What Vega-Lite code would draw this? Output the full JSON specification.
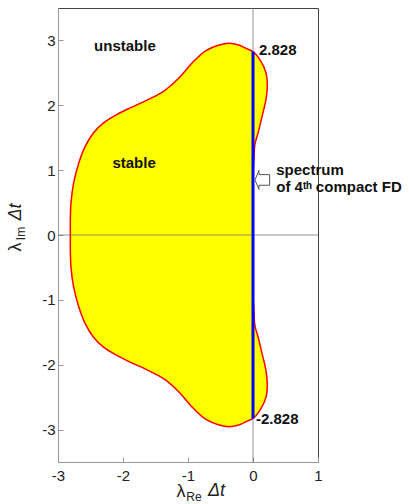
{
  "$schema": "https://vega.github.io/schema/vega-lite/v6.json",
  "width": 260,
  "height": 454,
  "autosize": {"type": "none"},
  "padding": {"left": 58, "top": 8, "right": 91, "bottom": 42},
  "background": "white",
  "config": {
    "view": {"stroke": "#444", "strokeWidth": 1},
    "axis": {
      "grid": false,
      "domainColor": "#999",
      "tickColor": "#999",
      "tickSize": -5,
      "labelFont": "Liberation Sans",
      "labelFontSize": 15,
      "labelColor": "#222",
      "labelFlush": false,
      "labelOverlap": false,
      "labelExpr": "replace(datum.label, '\u2212', '-')"
    },
    "axisX": {"labelPadding": 11},
    "axisY": {"labelPadding": 8}
  },
  "datasets": {
    "boundary": [
      {"i": 1, "x": 0, "y": 0},
      {"i": 2, "x": 0, "y": 0.5},
      {"i": 3, "x": 0.004, "y": 1.0},
      {"i": 4, "x": 0.015, "y": 1.2},
      {"i": 5, "x": 0.03, "y": 1.4},
      {"i": 6, "x": 0.08, "y": 1.58},
      {"i": 7, "x": 0.14, "y": 1.83},
      {"i": 8, "x": 0.2, "y": 2.09},
      {"i": 9, "x": 0.22, "y": 2.3},
      {"i": 10, "x": 0.2, "y": 2.5},
      {"i": 11, "x": 0.12, "y": 2.68},
      {"i": 12, "x": 0, "y": 2.828},
      {"i": 13, "x": -0.09, "y": 2.87},
      {"i": 14, "x": -0.22, "y": 2.93},
      {"i": 15, "x": -0.37, "y": 2.955},
      {"i": 16, "x": -0.52, "y": 2.93},
      {"i": 17, "x": -0.73, "y": 2.84},
      {"i": 18, "x": -0.93, "y": 2.66},
      {"i": 19, "x": -1.14, "y": 2.42},
      {"i": 20, "x": -1.37, "y": 2.22},
      {"i": 21, "x": -1.63, "y": 2.08},
      {"i": 22, "x": -1.89, "y": 1.96},
      {"i": 23, "x": -2.09, "y": 1.86},
      {"i": 24, "x": -2.3, "y": 1.73},
      {"i": 25, "x": -2.45, "y": 1.58},
      {"i": 26, "x": -2.58, "y": 1.37},
      {"i": 27, "x": -2.68, "y": 1.11},
      {"i": 28, "x": -2.76, "y": 0.8},
      {"i": 29, "x": -2.8, "y": 0.5},
      {"i": 30, "x": -2.81, "y": 0.25},
      {"i": 31, "x": -2.81, "y": 0},
      {"i": 32, "x": -2.81, "y": -0.25},
      {"i": 33, "x": -2.8, "y": -0.5},
      {"i": 34, "x": -2.76, "y": -0.8},
      {"i": 35, "x": -2.68, "y": -1.11},
      {"i": 36, "x": -2.58, "y": -1.37},
      {"i": 37, "x": -2.45, "y": -1.58},
      {"i": 38, "x": -2.3, "y": -1.73},
      {"i": 39, "x": -2.09, "y": -1.86},
      {"i": 40, "x": -1.89, "y": -1.96},
      {"i": 41, "x": -1.63, "y": -2.08},
      {"i": 42, "x": -1.37, "y": -2.22},
      {"i": 43, "x": -1.14, "y": -2.42},
      {"i": 44, "x": -0.93, "y": -2.66},
      {"i": 45, "x": -0.73, "y": -2.84},
      {"i": 46, "x": -0.52, "y": -2.93},
      {"i": 47, "x": -0.37, "y": -2.955},
      {"i": 48, "x": -0.22, "y": -2.93},
      {"i": 49, "x": -0.09, "y": -2.87},
      {"i": 50, "x": 0, "y": -2.828},
      {"i": 51, "x": 0.12, "y": -2.68},
      {"i": 52, "x": 0.2, "y": -2.5},
      {"i": 53, "x": 0.22, "y": -2.3},
      {"i": 54, "x": 0.2, "y": -2.09},
      {"i": 55, "x": 0.14, "y": -1.83},
      {"i": 56, "x": 0.08, "y": -1.58},
      {"i": 57, "x": 0.03, "y": -1.4},
      {"i": 58, "x": 0.015, "y": -1.2},
      {"i": 59, "x": 0.004, "y": -1.0},
      {"i": 60, "x": 0, "y": -0.5},
      {"i": 61, "x": 0, "y": 0}
    ],
    "vzero": [{"x": 0}],
    "hzero": [{"y": 0}],
    "spectrum": [{"x": 0, "y": -2.828, "y2": 2.828}],
    "regions": [
      {"label": "unstable", "x": -1.97, "y": 2.84},
      {"label": "stable", "x": -1.83, "y": 1.04}
    ],
    "top": [{"label": "2.828", "x": 0, "y": 2.828}],
    "bottom": [{"label": "-2.828", "x": 0, "y": -2.828}],
    "note": [
      {"label": "spectrum", "x": 0.358, "y": 0.926},
      {"label": "of 4ᵗʰ compact FD", "x": 0.358, "y": 0.664}
    ],
    "arrow": [{"x": 0.143, "y": 0.849}],
    "xlam": [{"label": "λ", "x": -1.108, "y": -4.035}],
    "xsub": [{"label": "Re", "x": -0.908, "y": -4.097}],
    "xdt": [{"label": "Δt", "x": -0.562, "y": -4.02}],
    "ylam": [{"label": "λ", "x": -3.569, "y": -0.185}],
    "ysub": [{"label": "Im", "x": -3.515, "y": 0.023}],
    "ydt": [{"label": "Δt", "x": -3.569, "y": 0.355}]
  },
  "layer": [
    {
      "data": {"name": "boundary"},
      "mark": {"type": "line", "interpolate": "catmull-rom", "fill": "#ffff00", "stroke": "#ff0000", "strokeWidth": 1.5},
      "encoding": {
        "x": {"field": "x", "type": "quantitative", "scale": {"domain": [-3, 1], "nice": false, "zero": false},
              "axis": {"title": null, "values": [-3, -2, -1, 0, 1]}},
        "y": {"field": "y", "type": "quantitative", "scale": {"domain": [-3.5, 3.5], "nice": false, "zero": false},
              "axis": {"title": null, "values": [-3, -2, -1, 0, 1, 2, 3]}},
        "order": {"field": "i"}
      }
    },
    {
      "data": {"name": "vzero"},
      "mark": {"type": "rule", "color": "#666", "opacity": 0.7, "strokeWidth": 1},
      "encoding": {"x": {"field": "x", "type": "quantitative", "scale": {"domain": [-3, 1], "nice": false, "zero": false},
              "axis": {"title": null, "values": [-3, -2, -1, 0, 1]}}}
    },
    {
      "data": {"name": "hzero"},
      "mark": {"type": "rule", "color": "#666", "opacity": 0.7, "strokeWidth": 1},
      "encoding": {"y": {"field": "y", "type": "quantitative", "scale": {"domain": [-3.5, 3.5], "nice": false, "zero": false},
              "axis": {"title": null, "values": [-3, -2, -1, 0, 1, 2, 3]}}}
    },
    {
      "data": {"name": "spectrum"},
      "mark": {"type": "rule", "color": "#0000ff", "strokeWidth": 3},
      "encoding": {
        "x": {"field": "x", "type": "quantitative", "scale": {"domain": [-3, 1], "nice": false, "zero": false},
              "axis": {"title": null, "values": [-3, -2, -1, 0, 1]}},
        "y": {"field": "y", "type": "quantitative", "scale": {"domain": [-3.5, 3.5], "nice": false, "zero": false},
              "axis": {"title": null, "values": [-3, -2, -1, 0, 1, 2, 3]}},
        "y2": {"field": "y2"}
      }
    },
    {
      "data": {"name": "regions"},
      "mark": {"type": "text", "font": "Liberation Sans", "fontSize": 15, "fontWeight": "bold", "color": "#111", "align": "center", "baseline": "alphabetic"},
      "encoding": {
        "x": {"field": "x", "type": "quantitative", "scale": {"domain": [-3, 1], "nice": false, "zero": false},
              "axis": {"title": null, "values": [-3, -2, -1, 0, 1]}},
        "y": {"field": "y", "type": "quantitative", "scale": {"domain": [-3.5, 3.5], "nice": false, "zero": false},
              "axis": {"title": null, "values": [-3, -2, -1, 0, 1, 2, 3]}},
        "text": {"field": "label"}
      }
    },
    {
      "data": {"name": "top"},
      "mark": {"type": "text", "font": "Liberation Sans", "fontSize": 15, "fontWeight": "bold", "color": "#111", "align": "left", "baseline": "alphabetic", "dx": 6, "dy": 3},
      "encoding": {
        "x": {"field": "x", "type": "quantitative", "scale": {"domain": [-3, 1], "nice": false, "zero": false},
              "axis": {"title": null, "values": [-3, -2, -1, 0, 1]}},
        "y": {"field": "y", "type": "quantitative", "scale": {"domain": [-3.5, 3.5], "nice": false, "zero": false},
              "axis": {"title": null, "values": [-3, -2, -1, 0, 1, 2, 3]}},
        "text": {"field": "label"}
      }
    },
    {
      "data": {"name": "bottom"},
      "mark": {"type": "text", "font": "Liberation Sans", "fontSize": 15, "fontWeight": "bold", "color": "#111", "align": "left", "baseline": "alphabetic", "dx": 3, "dy": 6},
      "encoding": {
        "x": {"field": "x", "type": "quantitative", "scale": {"domain": [-3, 1], "nice": false, "zero": false},
              "axis": {"title": null, "values": [-3, -2, -1, 0, 1]}},
        "y": {"field": "y", "type": "quantitative", "scale": {"domain": [-3.5, 3.5], "nice": false, "zero": false},
              "axis": {"title": null, "values": [-3, -2, -1, 0, 1, 2, 3]}},
        "text": {"field": "label"}
      }
    },
    {
      "data": {"name": "note"},
      "mark": {"type": "text", "font": "Liberation Sans", "fontSize": 15, "fontWeight": "bold", "color": "#111", "align": "left", "baseline": "alphabetic"},
      "encoding": {
        "x": {"field": "x", "type": "quantitative", "scale": {"domain": [-3, 1], "nice": false, "zero": false},
              "axis": {"title": null, "values": [-3, -2, -1, 0, 1]}},
        "y": {"field": "y", "type": "quantitative", "scale": {"domain": [-3.5, 3.5], "nice": false, "zero": false},
              "axis": {"title": null, "values": [-3, -2, -1, 0, 1, 2, 3]}},
        "text": {"field": "label"}
      }
    },
    {
      "data": {"name": "arrow"},
      "mark": {"type": "point", "shape": "M -0.77 0 L -0.35 -1 L -0.35 -0.56 L 0.77 -0.56 L 0.77 0.56 L -0.35 0.56 L -0.35 1 Z", "size": 361, "filled": true, "fill": "#ffffff", "stroke": "#555", "strokeWidth": 1, "opacity": 1},
      "encoding": {
        "x": {"field": "x", "type": "quantitative", "scale": {"domain": [-3, 1], "nice": false, "zero": false},
              "axis": {"title": null, "values": [-3, -2, -1, 0, 1]}},
        "y": {"field": "y", "type": "quantitative", "scale": {"domain": [-3.5, 3.5], "nice": false, "zero": false},
              "axis": {"title": null, "values": [-3, -2, -1, 0, 1, 2, 3]}}
      }
    },
    {
      "data": {"name": "xlam"},
      "mark": {"type": "text", "font": "Liberation Sans", "fontSize": 18, "color": "#222", "align": "center", "baseline": "alphabetic"},
      "encoding": {
        "x": {"field": "x", "type": "quantitative", "scale": {"domain": [-3, 1], "nice": false, "zero": false},
              "axis": {"title": null, "values": [-3, -2, -1, 0, 1]}},
        "y": {"field": "y", "type": "quantitative", "scale": {"domain": [-3.5, 3.5], "nice": false, "zero": false},
              "axis": {"title": null, "values": [-3, -2, -1, 0, 1, 2, 3]}},
        "text": {"field": "label"}
      }
    },
    {
      "data": {"name": "xsub"},
      "mark": {"type": "text", "font": "Liberation Sans", "fontSize": 12, "color": "#222", "align": "center", "baseline": "alphabetic"},
      "encoding": {
        "x": {"field": "x", "type": "quantitative", "scale": {"domain": [-3, 1], "nice": false, "zero": false},
              "axis": {"title": null, "values": [-3, -2, -1, 0, 1]}},
        "y": {"field": "y", "type": "quantitative", "scale": {"domain": [-3.5, 3.5], "nice": false, "zero": false},
              "axis": {"title": null, "values": [-3, -2, -1, 0, 1, 2, 3]}},
        "text": {"field": "label"}
      }
    },
    {
      "data": {"name": "xdt"},
      "mark": {"type": "text", "font": "Liberation Sans", "fontSize": 18, "fontStyle": "italic", "color": "#222", "align": "center", "baseline": "alphabetic"},
      "encoding": {
        "x": {"field": "x", "type": "quantitative", "scale": {"domain": [-3, 1], "nice": false, "zero": false},
              "axis": {"title": null, "values": [-3, -2, -1, 0, 1]}},
        "y": {"field": "y", "type": "quantitative", "scale": {"domain": [-3.5, 3.5], "nice": false, "zero": false},
              "axis": {"title": null, "values": [-3, -2, -1, 0, 1, 2, 3]}},
        "text": {"field": "label"}
      }
    },
    {
      "data": {"name": "ylam"},
      "mark": {"type": "text", "font": "Liberation Sans", "fontSize": 18, "color": "#222", "align": "center", "baseline": "alphabetic", "angle": 270},
      "encoding": {
        "x": {"field": "x", "type": "quantitative", "scale": {"domain": [-3, 1], "nice": false, "zero": false},
              "axis": {"title": null, "values": [-3, -2, -1, 0, 1]}},
        "y": {"field": "y", "type": "quantitative", "scale": {"domain": [-3.5, 3.5], "nice": false, "zero": false},
              "axis": {"title": null, "values": [-3, -2, -1, 0, 1, 2, 3]}},
        "text": {"field": "label"}
      }
    },
    {
      "data": {"name": "ysub"},
      "mark": {"type": "text", "font": "Liberation Sans", "fontSize": 12, "color": "#222", "align": "center", "baseline": "alphabetic", "angle": 270},
      "encoding": {
        "x": {"field": "x", "type": "quantitative", "scale": {"domain": [-3, 1], "nice": false, "zero": false},
              "axis": {"title": null, "values": [-3, -2, -1, 0, 1]}},
        "y": {"field": "y", "type": "quantitative", "scale": {"domain": [-3.5, 3.5], "nice": false, "zero": false},
              "axis": {"title": null, "values": [-3, -2, -1, 0, 1, 2, 3]}},
        "text": {"field": "label"}
      }
    },
    {
      "data": {"name": "ydt"},
      "mark": {"type": "text", "font": "Liberation Sans", "fontSize": 18, "fontStyle": "italic", "color": "#222", "align": "center", "baseline": "alphabetic", "angle": 270},
      "encoding": {
        "x": {"field": "x", "type": "quantitative", "scale": {"domain": [-3, 1], "nice": false, "zero": false},
              "axis": {"title": null, "values": [-3, -2, -1, 0, 1]}},
        "y": {"field": "y", "type": "quantitative", "scale": {"domain": [-3.5, 3.5], "nice": false, "zero": false},
              "axis": {"title": null, "values": [-3, -2, -1, 0, 1, 2, 3]}},
        "text": {"field": "label"}
      }
    }
  ]
}
